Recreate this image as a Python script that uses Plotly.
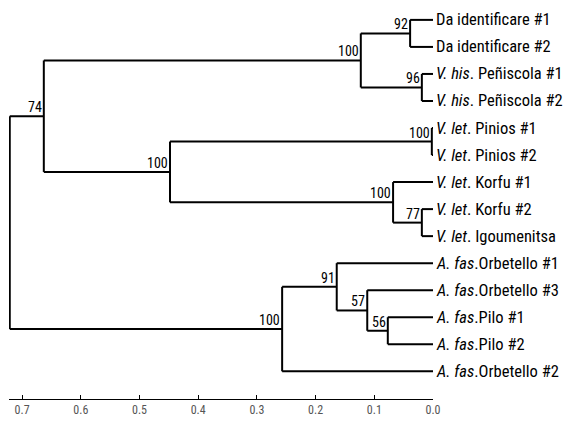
import plotly.graph_objects as go

# ---- data ----
leaf_labels = [
    "Da identificare #1",
    "Da identificare #2",
    "<i>V. his</i>. Peñiscola #1",
    "<i>V. his</i>. Peñiscola #2",
    "<i>V. let</i>. Pinios #1",
    "<i>V. let</i>. Pinios #2",
    "<i>V. let</i>. Korfu #1",
    "<i>V. let</i>. Korfu #2",
    "<i>V. let</i>. Igoumenitsa",
    "<i>A. fas</i>.Orbetello #1",
    "<i>A. fas</i>.Orbetello #3",
    "<i>A. fas</i>.Pilo #1",
    "<i>A. fas</i>.Pilo #2",
    "<i>A. fas</i>.Orbetello #2",
]
leaf_ids = ["L%d" % i for i in range(len(leaf_labels))]

node_ids = ["n92", "n96", "nDaHis", "nPin", "n77", "nKor", "nLet", "n74",
            "n56", "n57", "n91", "nAfas", "root"]
node_left = ["L0", "L2", "n92", "L4", "L7", "L6", "nPin", "nDaHis",
             "L11", "L10", "L9", "n91", "n74"]
node_right = ["L1", "L3", "n96", "L5", "L8", "n77", "nKor", "nLet",
              "L12", "n56", "n57", "L13", "nAfas"]
node_height = [0.039, 0.019, 0.123, 0.002, 0.019, 0.068, 0.448, 0.663,
               0.077, 0.112, 0.164, 0.257, 0.721]
node_support = ["92", "96", "100", "100", "77", "100", "100", "74",
                "56", "57", "91", "100", ""]

tick_vals = [0.7, 0.6, 0.5, 0.4, 0.3, 0.2, 0.1, 0.0]

# ---- layout computation ----
pos_x = {lid: 0.0 for lid in leaf_ids}
pos_y = {lid: float(i) for i, lid in enumerate(leaf_ids)}
for nid, l, r, h in zip(node_ids, node_left, node_right, node_height):
    pos_x[nid] = h
    pos_y[nid] = (pos_y[l] + pos_y[r]) / 2.0

lx, ly = [], []
for nid, l, r in zip(node_ids, node_left, node_right):
    x = pos_x[nid]
    lx += [x, x, None]
    ly += [pos_y[l], pos_y[r], None]
    for c in (l, r):
        lx += [x, pos_x[c], None]
        ly += [pos_y[c], pos_y[c], None]

FONT = "Roboto Condensed, DejaVu Sans Condensed, sans-serif"

fig = go.Figure()
fig.add_trace(go.Scatter(x=lx, y=ly, mode="lines",
                         line=dict(color="black", width=2),
                         hoverinfo="skip", showlegend=False))

for lid, lab in zip(leaf_ids, leaf_labels):
    fig.add_annotation(x=pos_x[lid], y=pos_y[lid], text=lab, showarrow=False,
                       xanchor="left", yanchor="middle", xshift=1,
                       font=dict(family=FONT, size=16.5, color="black"))

for nid, sup in zip(node_ids, node_support):
    if sup:
        fig.add_annotation(x=pos_x[nid], y=pos_y[nid], text=sup, showarrow=False,
                           xanchor="right", yanchor="bottom", xshift=0, yshift=-1,
                           font=dict(family=FONT, size=14, color="black"))

fig.update_layout(
    width=565, height=426,
    margin=dict(l=9, r=132, t=10, b=23),
    paper_bgcolor="white", plot_bgcolor="white",
    xaxis=dict(range=[0.7223, 0.0], showgrid=False, zeroline=False,
               showline=True, linecolor="black", linewidth=1,
               ticks="inside", ticklen=4, tickcolor="black",
               tickvals=tick_vals, ticktext=["%.1f" % v for v in tick_vals],
               tickfont=dict(family=FONT, size=12, color="#555")),
    yaxis=dict(range=[14.025, -0.366], visible=False),
)
fig.write_html("out.html",
               config={"displayModeBar": False},
               post_script="document.body.style.margin='0px';"
                           "document.body.style.overflow='hidden';")
